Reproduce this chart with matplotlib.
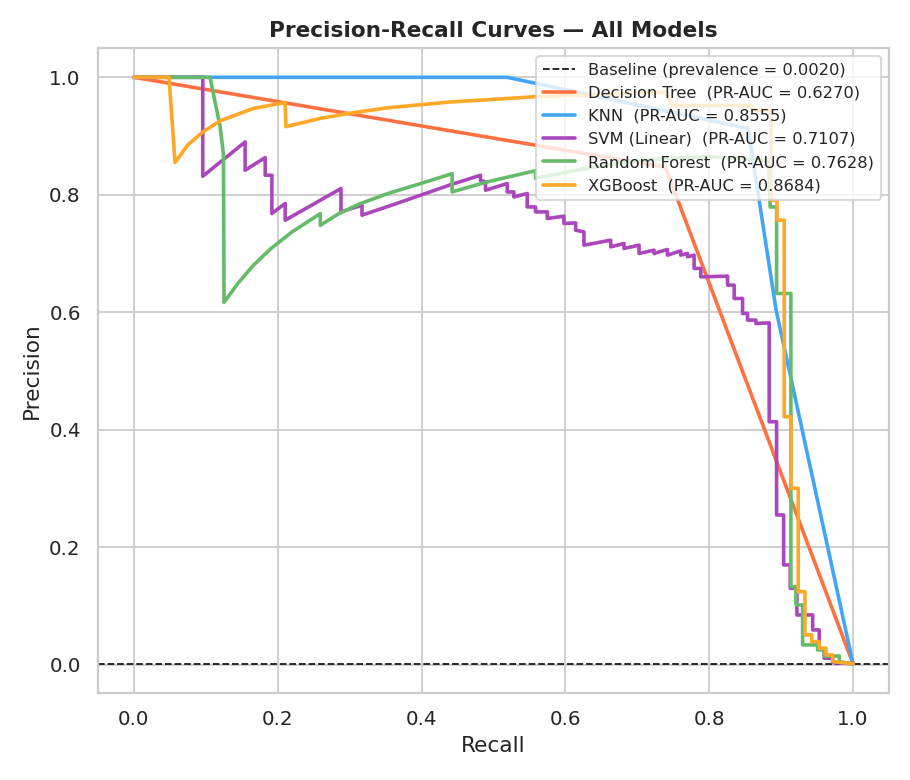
import matplotlib
matplotlib.use("Agg")
import matplotlib.pyplot as plt
import seaborn as sns

# ---------------- data (recall, precision) ----------------
prevalence = 0.0020

model_names = ["Decision Tree", "KNN", "SVM (Linear)", "Random Forest", "XGBoost"]
model_auc = [0.6270, 0.8555, 0.7107, 0.7628, 0.8684]
model_colors = ["#FF7043", "#42A5F5", "#AB47BC", "#66BB6A", "#FFA726"]

dt_points = [(0.0, 1.0), (0.739, 0.847), (1.0, 0.002)]

knn_points = [(0.0, 1.0), (0.519, 1.0), (0.854, 0.913), (0.893, 0.604), (1.0, 0.002)]

svm_points = [
    (0.0, 1.0),
    (0.0957, 1.0), (0.0957, 0.8316),
    (0.1546, 0.8900), (0.1546, 0.8418),
    (0.1825, 0.8634), (0.1825, 0.8333),
    (0.1918, 0.8333), (0.1918, 0.7682),
    (0.2103, 0.7852), (0.2103, 0.7568),
    (0.2879, 0.8107), (0.2879, 0.7709),
    (0.3171, 0.7823), (0.3171, 0.7653),
    (0.36, 0.783), (0.40, 0.800), (0.44, 0.817),
    (0.4819, 0.8333), (0.4819, 0.8248),
    (0.4889, 0.8219), (0.4889, 0.8078),
    (0.5191, 0.8192), (0.5191, 0.8049),
    (0.5283, 0.8049), (0.5283, 0.7964),
    (0.5469, 0.8022), (0.5469, 0.7794),
    (0.5585, 0.7794), (0.5585, 0.7709),
    (0.5748, 0.7709), (0.5748, 0.7597),
    (0.5979, 0.7636), (0.5979, 0.7512),
    (0.6142, 0.7522), (0.6142, 0.7398),
    (0.6258, 0.7369), (0.6258, 0.7143),
    (0.6630, 0.7228), (0.6630, 0.7114),
    (0.6815, 0.7172), (0.6815, 0.7087),
    (0.7024, 0.7143), (0.7024, 0.7002),
    (0.7232, 0.7058), (0.7232, 0.7002),
    (0.7419, 0.7070), (0.7419, 0.6973),
    (0.7604, 0.7046), (0.7604, 0.6973),
    (0.7698, 0.7002), (0.7698, 0.6944),
    (0.7790, 0.6973), (0.7790, 0.6747),
    (0.7883, 0.6747), (0.7883, 0.6604),
    (0.8255, 0.6616), (0.8255, 0.6463),
    (0.8347, 0.6463), (0.8347, 0.6236),
    (0.8464, 0.6236), (0.8464, 0.5981),
    (0.8533, 0.5981), (0.8533, 0.5867),
    (0.8649, 0.5867), (0.8649, 0.5811),
    (0.8834, 0.5821), (0.8834, 0.4138),
    (0.8937, 0.4138), (0.8937, 0.2551),
    (0.9035, 0.2551), (0.9035, 0.1701),
    (0.9127, 0.1701), (0.9127, 0.1304),
    (0.9220, 0.1304), (0.9220, 0.0850),
    (0.9439, 0.0850), (0.9439, 0.0595),
    (0.9530, 0.0595), (0.9530, 0.0284),
    (0.9600, 0.0255), (0.9600, 0.0114),
    (0.9717, 0.0114), (0.9717, 0.0040),
    (1.0, 0.002),
]

rf_points = [
    (0.0, 1.0), (0.1058, 1.0), (0.1198, 0.916), (0.1244, 0.870), (0.1253, 0.617),
    (0.145, 0.650), (0.166, 0.680), (0.19, 0.708), (0.22, 0.737), (0.2591, 0.768),
    (0.2591, 0.748), (0.285, 0.768), (0.3148, 0.785), (0.355, 0.803), (0.3983, 0.819),
    (0.4425, 0.836), (0.4425, 0.805), (0.4912, 0.822), (0.5585, 0.841),
    (0.5585, 0.828), (0.62, 0.843), (0.68, 0.855), (0.74, 0.862), (0.8022, 0.865),
    (0.883, 0.858), (0.8848, 0.7794), (0.8937, 0.7794), (0.8937, 0.6321),
    (0.9136, 0.6321), (0.9136, 0.1332), (0.9206, 0.1332), (0.9206, 0.1020),
    (0.9299, 0.1020), (0.9299, 0.0340), (0.9508, 0.0340), (0.9508, 0.0255),
    (0.9600, 0.0255), (0.9600, 0.0150), (0.9809, 0.0150), (0.9809, 0.0056),
    (1.0, 0.002),
]

xgb_points = [
    (0.0, 1.0), (0.0487, 1.0), (0.0571, 0.855), (0.075, 0.885), (0.0957, 0.907),
    (0.12, 0.926), (0.166, 0.947), (0.2103, 0.957), (0.2113, 0.916), (0.2591, 0.930),
    (0.2962, 0.938), (0.352, 0.948), (0.4401, 0.958), (0.4819, 0.961), (0.5585, 0.967),
    (0.65, 0.971), (0.7396, 0.975), (0.7489, 0.952), (0.8579, 0.952), (0.8600, 0.944),
    (0.8858, 0.944), (0.8858, 0.7908), (0.8942, 0.7908), (0.8942, 0.7568),
    (0.9043, 0.7568), (0.9043, 0.4223), (0.9136, 0.4223), (0.9136, 0.3005),
    (0.9238, 0.3005), (0.9238, 0.1247), (0.9331, 0.1247), (0.9331, 0.0510),
    (0.9425, 0.0510), (0.9425, 0.0396), (0.9530, 0.0396), (0.9530, 0.0284),
    (0.9624, 0.0284), (0.9624, 0.0170), (0.9717, 0.0170), (0.9717, 0.0056),
    (1.0, 0.002),
]

model_points = [dt_points, knn_points, svm_points, rf_points, xgb_points]

# ---------------- plot ----------------
sns.set_theme(style="whitegrid")
plt.rcParams["font.family"] = ["DejaVu Sans"]

fig, ax = plt.subplots(figsize=(7, 6), dpi=130)

ax.axhline(prevalence, color="k", linestyle="--", linewidth=1,
           label=f"Baseline (prevalence = {prevalence:.4f})")

for name, auc, color, pts in zip(model_names, model_auc, model_colors, model_points):
    rec = [p[0] for p in pts]
    prec = [p[1] for p in pts]
    ax.plot(rec, prec, color=color, linewidth=2,
            label=f"{name}  (PR-AUC = {auc:.4f})")

ax.set_xlabel("Recall", fontsize=12)
ax.set_ylabel("Precision", fontsize=12)
ax.set_title("Precision-Recall Curves — All Models", fontsize=12, fontweight="bold")
ax.legend(loc="upper right", fontsize=9)

fig.subplots_adjust(left=0.1077, right=0.9769, bottom=0.1115, top=0.9385)
fig.savefig("out.png", dpi=130)
